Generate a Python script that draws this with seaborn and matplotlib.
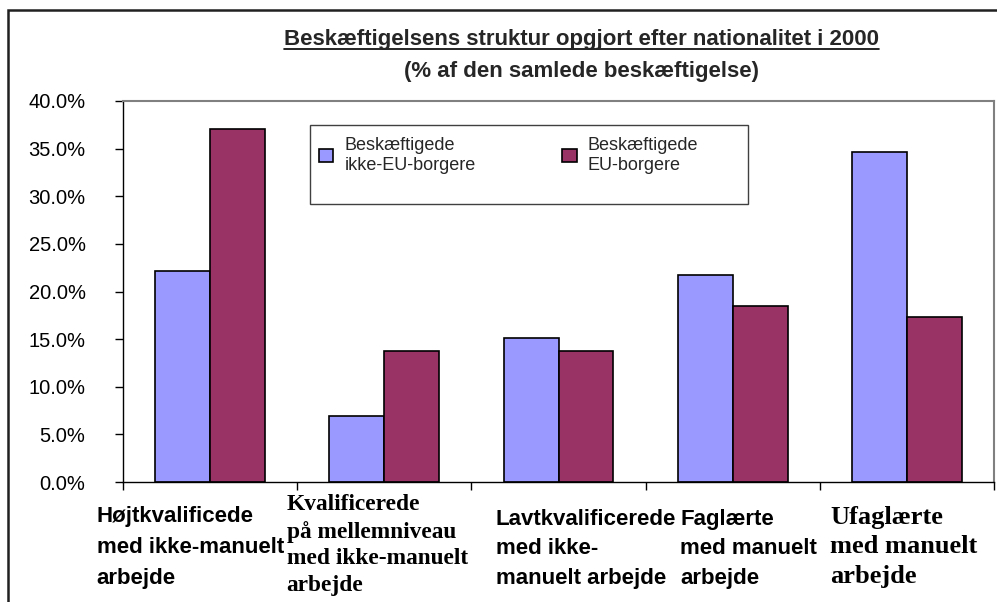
import numpy as np
import pandas as pd
import matplotlib
matplotlib.use('Agg')
import matplotlib.pyplot as plt
from matplotlib.patches import Rectangle
from matplotlib.lines import Line2D
import seaborn as sns

categories = ["Højtkvalificede\nmed ikke-manuelt\narbejde",
              "Kvalificerede\npå mellemniveau\nmed ikke-manuelt\narbejde",
              "Lavtkvalificerede\nmed ikke-\nmanuelt arbejde",
              "Faglærte\nmed manuelt\narbejde",
              "Ufaglærte\nmed manuelt\narbejde"]
series = ["Beskæftigede\nikke-EU-borgere", "Beskæftigede\nEU-borgere"]
non_eu = [22.1, 6.9, 15.1, 21.7, 34.6]
eu = [37.1, 13.8, 13.8, 18.5, 17.3]
yticks = [0, 5, 10, 15, 20, 25, 30, 35, 40]

df = pd.DataFrame({
    "kategori": categories * 2,
    "serie": [series[0]] * 5 + [series[1]] * 5,
    "andel": non_eu + eu,
})

sans = "Liberation Sans"
serif = "Liberation Serif"

sns.set_theme(style="white")
plt.rcParams['font.family'] = [sans, 'DejaVu Sans']

fig = plt.figure(figsize=(9.97, 6.02), dpi=100)
ax = fig.add_axes([123 / 997, 1 - 482 / 602, (994 - 123) / 997, (482 - 101) / 602])

sns.barplot(data=df, x="kategori", y="andel", hue="serie",
            palette=["#9999FF", "#993366"], width=0.63, gap=0,
            edgecolor="black", linewidth=1.2, saturation=1, ax=ax)

ax.set_xlim(-0.5, 4.5)
ax.set_ylim(0, 40)
ax.set_yticks(yticks)
ax.set_yticklabels([f"{v:.1f}%" for v in yticks], fontsize=14.5, color="black")
ax.set_xticks(np.arange(-0.5, 5, 1))
ax.set_xticklabels([])
ax.tick_params(axis="both", direction="out", length=6, width=1, color="black",
               bottom=True, left=True)
ax.tick_params(axis="y", pad=21)
ax.set_xlabel("")
ax.set_ylabel("")
for s in ["left", "bottom"]:
    ax.spines[s].set_color("black")
    ax.spines[s].set_linewidth(1)
for s in ["top", "right"]:
    ax.spines[s].set_color("#808080")
    ax.spines[s].set_linewidth(1.5)

# category labels - the original mixes a narrow sans and a serif face
label_fonts = [sans, serif, sans, sans, serif]
label_sizes = [16, 16.8, 16, 16, 19]
label_ls = [1.65, 1.35, 1.52, 1.52, 1.36]
label_dx = [-0.15, -0.06, 0.14, 0.20, 0.06]
label_y = [-0.062, -0.031, -0.071, -0.071, -0.063]
trans = ax.get_xaxis_transform()
for i, lab in enumerate(categories):
    ax.text(i - 0.5 + label_dx[i], label_y[i], lab, transform=trans,
            ha="left", va="top", fontsize=label_sizes[i], fontweight="bold",
            family=label_fonts[i], linespacing=label_ls[i], color="black")

# legend (frame drawn separately so it can be wider than the entries)
handles, labels = ax.get_legend_handles_labels()
ax.get_legend().remove()
fig.legend(handles, labels, loc="upper left",
           bbox_to_anchor=(310 / 997, 1 - 128 / 602), ncol=2,
           fontsize=13, frameon=False,
           handlelength=0.8, handleheight=0.8, handletextpad=0.6,
           columnspacing=4.8, borderpad=0.5, borderaxespad=0)
fig.add_artist(Rectangle((310 / 997, 1 - 204 / 602), 438 / 997, 79 / 602,
                         transform=fig.transFigure, fill=False,
                         edgecolor="#404040", lw=1))

# title, first line underlined
t1 = fig.text(581 / 997, 1 - 40 / 602, "Beskæftigelsens struktur opgjort efter nationalitet i 2000",
              ha="center", va="center", fontsize=16, fontweight="bold")
fig.text(581 / 997, 1 - 72 / 602, "(% af den samlede beskæftigelse)",
         ha="center", va="center", fontsize=16, fontweight="bold")
fig.canvas.draw()
bb = t1.get_window_extent().transformed(fig.transFigure.inverted())
fig.add_artist(Line2D([bb.x0, bb.x1], [bb.y0 + 0.003, bb.y0 + 0.003],
                      transform=fig.transFigure, color="black", lw=1.2))

# outer chart frame
fig.add_artist(Rectangle((8 / 997, -0.1), 1.2, 1 - 10 / 602 + 0.1,
                         transform=fig.transFigure, fill=False,
                         edgecolor="#202020", lw=1.8, clip_on=False))

fig.savefig("out.png", dpi=100)
